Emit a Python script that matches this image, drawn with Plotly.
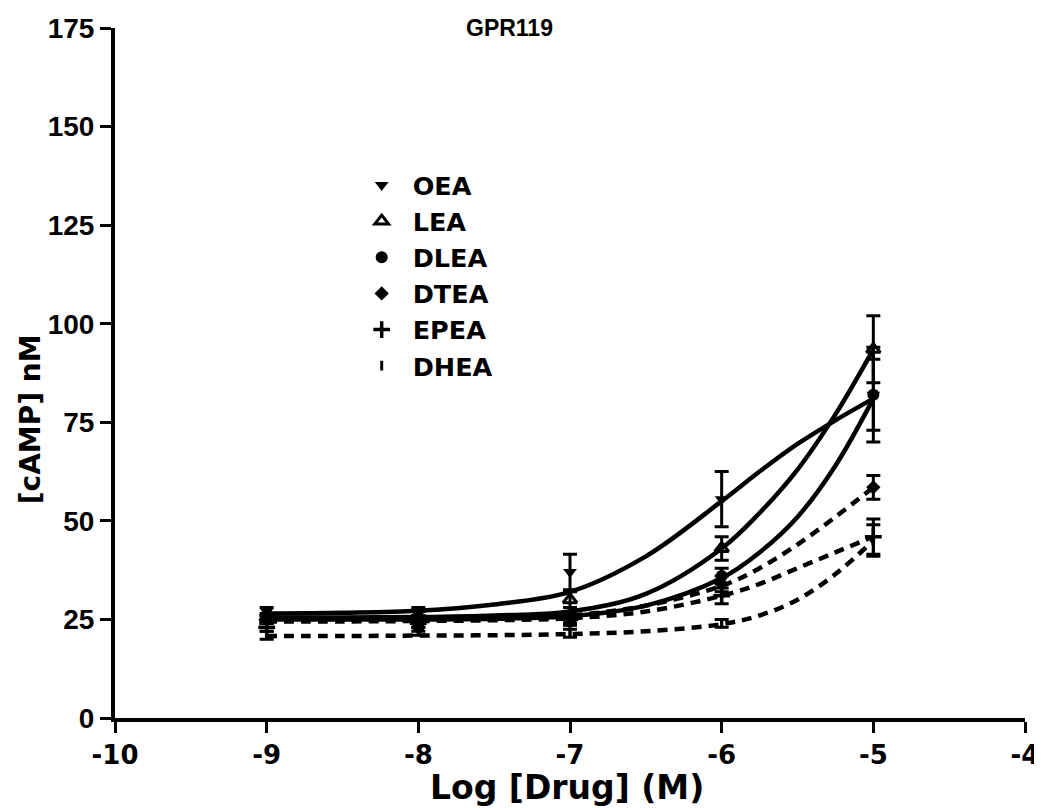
import plotly.graph_objects as go

# ---------------- data ----------------
doses = [-9, -8, -7, -6, -5]

oea_y   = [27.0, 27.0, 37.0, 55.5, 82.0]
oea_err = [1.0, 1.0, 4.5, 7.0, 12.0]
lea_y   = [25.5, 26.0, 30.0, 43.0, 93.5]
lea_err = [1.0, 1.0, 2.0, 3.0, 8.5]
dlea_y   = [25.0, 23.0, 24.5, 36.0, 82.0]
dlea_err = [1.0, 1.0, 1.0, 2.0, 9.0]
dtea_y   = [25.0, 25.0, 26.0, 34.0, 58.5]
dtea_err = [1.0, 1.0, 1.0, 2.0, 3.0]
epea_y   = [23.0, 24.0, 25.0, 31.0, 46.0]
epea_err = [1.0, 1.0, 1.0, 2.0, 4.5]
dhea_y   = [21.0, 22.0, 21.5, 24.0, 45.0]
dhea_err = [1.0, 1.0, 1.0, 1.0, 4.0]

# fitted curves, values
curve_x = [-9, -8.5, -8, -7.5, -7, -6.5, -6, -5.75, -5.5, -5.25, -5]
oea_fit  = [26.5, 26.7, 27.2, 28.8, 32.0, 41.0, 55.0, 62.5, 69.5, 75.5, 81.0]
lea_fit  = [25.5, 25.5, 25.6, 26.0, 27.0, 31.5, 43.0, 52.0, 63.0, 77.0, 93.5]
dlea_fit = [25.0, 25.0, 25.0, 25.2, 25.8, 28.5, 35.5, 42.0, 51.0, 64.0, 81.0]
dtea_fit = [25.0, 25.0, 25.1, 25.4, 26.0, 28.5, 33.5, 38.0, 44.0, 51.0, 58.5]
epea_fit = [24.5, 24.5, 24.6, 24.8, 25.3, 27.0, 31.0, 34.0, 38.0, 42.0, 46.0]
dhea_fit = [20.8, 20.8, 20.9, 21.0, 21.3, 22.0, 23.8, 26.0, 30.0, 36.5, 45.0]

names = ["OEA", "LEA", "DLEA", "DTEA", "EPEA", "DHEA"]
means = [oea_y, lea_y, dlea_y, dtea_y, epea_y, dhea_y]
errs = [oea_err, lea_err, dlea_err, dtea_err, epea_err, dhea_err]
fits = [oea_fit, lea_fit, dlea_fit, dtea_fit, epea_fit, dhea_fit]
dashes = ["solid", "solid", "solid", "10px,7px", "10px,7px", "10px,7px"]

x_ticks = [-10, -9, -8, -7, -6, -5, -4]
y_ticks = [0, 25, 50, 75, 100, 125, 150, 175]

# ---------------- styles ----------------
markers = [
    dict(symbol="triangle-down", size=12, color="black"),
    dict(symbol="triangle-up-open", size=12, color="black", line=dict(width=3, color="black")),
    dict(symbol="circle", size=12, color="black"),
    dict(symbol="diamond", size=11, color="black"),
    dict(symbol="cross-thin", size=12, color="black", line=dict(width=3.5, color="black")),
    dict(symbol="line-ns", size=7, color="black", line=dict(width=3, color="black")),
]

ARIAL = "Liberation Sans, Arial, sans-serif"
WIDE = "DejaVu Sans, Verdana, sans-serif"

fig = go.Figure()

for name, fy, dash in zip(names, fits, dashes):
    fig.add_trace(go.Scatter(
        x=curve_x, y=fy, mode="lines", showlegend=False, hoverinfo="skip",
        line=dict(color="black", width=4.5, dash=dash, shape="spline", smoothing=1.0),
    ))

for name, my, me, mk in zip(names, means, errs, markers):
    fig.add_trace(go.Scatter(
        x=doses, y=my, mode="markers", name=name, showlegend=False,
        marker=mk,
        error_y=dict(type="data", array=me, visible=True, color="black", thickness=3, width=7),
    ))

# legend entries (marker only)
for name, mk in zip(names, markers):
    fig.add_trace(go.Scatter(
        x=[None], y=[None], mode="markers", name=name, marker=mk,
        legendgroup=name, showlegend=True,
    ))

fig.update_layout(
    width=1042, height=808,
    margin=dict(l=107, r=25, t=20, b=98, autoexpand=False),
    paper_bgcolor="white", plot_bgcolor="white",
    font=dict(family=ARIAL, color="black", size=22, weight="bold"),
    showlegend=True,
    legend=dict(
        x=0.259, y=0.806, xanchor="left", yanchor="top",
        bgcolor="rgba(0,0,0,0)", borderwidth=0,
        font=dict(family=WIDE, size=25.5, color="black", weight="bold"),
        tracegroupgap=0, itemsizing="trace", itemwidth=52,
    ),
    annotations=[
        dict(text="GPR119", xref="paper", yref="paper", x=0.433, y=1.0,
             xanchor="center", yanchor="middle", showarrow=False,
             font=dict(family=ARIAL, size=23, color="black", weight="bold")),
        dict(text="[cAMP] nM", xref="paper", yref="paper", x=-0.0934, y=0.433,
             xanchor="center", yanchor="middle", textangle=-90, showarrow=False,
             font=dict(family=WIDE, size=28, color="black", weight="bold")),
        dict(text="Log [Drug] (M)", xref="paper", yref="paper", x=0.497, y=-0.1,
             xanchor="center", yanchor="middle", showarrow=False,
             font=dict(family=WIDE, size=33, color="black", weight="bold")),
    ],
)

fig.update_xaxes(
    range=[-10, -4], tickmode="array", tickvals=x_ticks,
    ticktext=[str(v) for v in x_ticks],
    showline=True, linecolor="black", linewidth=4, mirror=False,
    ticks="outside", ticklen=11, tickwidth=3, tickcolor="black",
    showgrid=False, zeroline=False,
    tickfont=dict(family=WIDE, size=26, color="black", weight="bold"),
)
fig.update_yaxes(
    range=[0, 175], tickmode="array", tickvals=y_ticks,
    ticktext=[str(v) for v in y_ticks],
    showline=True, linecolor="black", linewidth=4, mirror=False,
    ticks="outside", ticklen=11, tickwidth=3, tickcolor="black",
    showgrid=False, zeroline=False,
    tickfont=dict(family=ARIAL, size=28, color="black", weight="bold"),
)

fig.write_html("out.html")
